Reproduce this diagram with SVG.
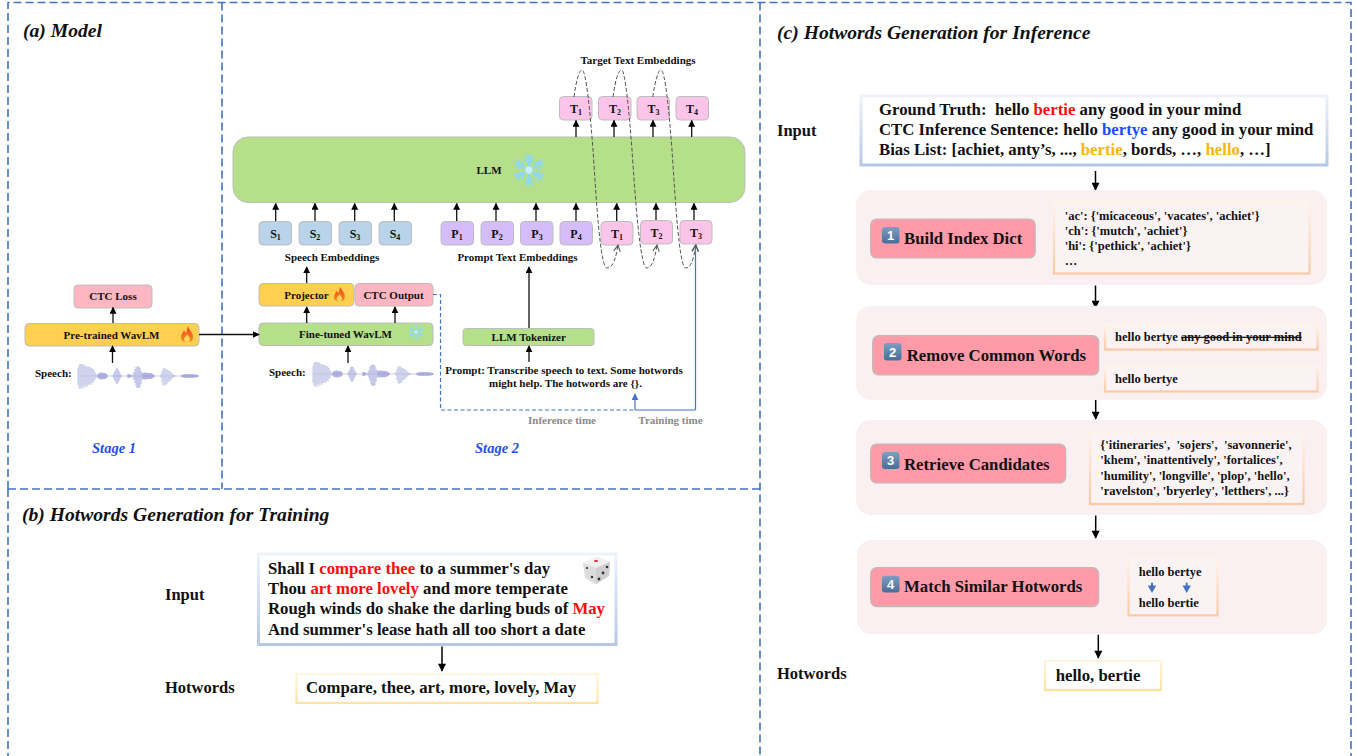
<svg xmlns="http://www.w3.org/2000/svg" xmlns:xlink="http://www.w3.org/1999/xlink" width="1357" height="756" viewBox="0 0 1357 756">
<style>
text{font-family:"Liberation Serif","Times New Roman",serif;font-weight:bold;fill:#111}
.t11{font-size:11px}.mid{text-anchor:middle}
.n12{font-size:12px}
.t12{font-size:12.500px}.t17{font-size:16.750px}
.title{font-size:19.600px;font-style:italic}
.stage{font-size:14.500px;font-style:italic;fill:#1f50e6}
.sec{font-size:16.500px}
.gray{font-size:11px;fill:#8a8a8a}
.red{fill:#fb0d0d}.blue{fill:#1a4cff}.gold{fill:#fdb40f}
.sub{font-size:8px}
.panel{fill:none;stroke:#4472c4;stroke-width:1.6;stroke-dasharray:8 4}
.nd{stroke:#bdbdbd;stroke-width:1}
.or{fill:#ffd050}.gr{fill:#b5df88}.pk{fill:#ffb6c3}.bl{fill:#b9d3ea}.pu{fill:#d5bdfb}.mg{fill:#fdc4ea}
.wrap{fill:#fbf0f1}
.btn{fill:#ff9ba9;stroke:#bbb;stroke-width:1.2}
.frO{fill:#fbf3f3;stroke:url(#gO);stroke-width:2.2}
.frB{fill:#fff;stroke:url(#gB);stroke-width:3}
.frY{fill:#fff;stroke:url(#gY);stroke-width:2.2}
.key{fill:url(#gK)}
.keyT{font-family:"Liberation Sans",Arial,sans-serif;font-size:13px;fill:#fff;text-anchor:middle;font-weight:bold}
.c{fill:none;stroke:#111;stroke-width:1.3}
.cb{fill:none;stroke:#000;stroke-width:1.5}
.d{fill:none;stroke:#555;stroke-width:1;stroke-dasharray:4 2}
.bl1{fill:none;stroke:#4472c4;stroke-width:1.2}
</style>
<defs>
<linearGradient id="gO" x1="0" y1="0" x2="0" y2="1"><stop offset="0" stop-color="#fff3ea"/><stop offset="1" stop-color="#fbc9a4"/></linearGradient>
<linearGradient id="gB" x1="0" y1="0" x2="0" y2="1"><stop offset="0" stop-color="#eef3fb"/><stop offset="1" stop-color="#b6c8e8"/></linearGradient>
<linearGradient id="gY" x1="0" y1="0" x2="0" y2="1"><stop offset="0" stop-color="#fff6dd"/><stop offset="1" stop-color="#fde3a0"/></linearGradient>
<linearGradient id="gK" x1="0" y1="0" x2="0" y2="1"><stop offset="0" stop-color="#7f9fc2"/><stop offset="1" stop-color="#466d99"/></linearGradient>
<linearGradient id="gF" x1="0" y1="0" x2="0" y2="1"><stop offset="0" stop-color="#f0431c"/><stop offset="1" stop-color="#f98a1e"/></linearGradient>
<marker id="a" viewBox="0 0 10 10" refX="9" refY="5" markerWidth="7" markerHeight="7" markerUnits="userSpaceOnUse" orient="auto"><path d="M0 0L10 5L0 10z" fill="#000"/></marker>
<marker id="aL" viewBox="0 0 10 10" refX="9" refY="5" markerWidth="9" markerHeight="8" markerUnits="userSpaceOnUse" orient="auto"><path d="M0 0L10 5L0 10z" fill="#000"/></marker>
<marker id="aB" viewBox="0 0 10 10" refX="9" refY="5" markerWidth="7" markerHeight="7" markerUnits="userSpaceOnUse" orient="auto"><path d="M0 0L10 5L0 10z" fill="#4472c4"/></marker>
<marker id="aO" viewBox="0 0 10 10" refX="9" refY="5" markerWidth="8" markerHeight="8" markerUnits="userSpaceOnUse" orient="auto"><path d="M1 1L9 5L1 9" fill="none" stroke="#555" stroke-width="1.3"/></marker>
<g id="wave" fill="none">
<path d="M0 0H120" stroke="#b0b3de" stroke-width="0.7"/>
<path stroke="#bcbfe3" stroke-width="0.9" d="M0-8V9M1-11V12M2-12V13M3-12V11M4-12V13M5-11V10M6-12V12M7-10V11M8-10V9M9-9V11M10-10V9M11-9V9M12-9V8M13-8V9M14-8V7M15-7V7M16-6V5M17-4V4M18-2V2"/>
<path stroke="#8f94d2" stroke-width="0.9" d="M20-2V2M21-3V3M22-3V3M23-3.500V3.500M24-3.500V3.500M25-3V3M26-3V3M27-3V3M28-2.500V2.500M29-1.500V1.500"/>
<path stroke="#adb0de" stroke-width="0.9" d="M35-1V1M36-3V3M37-5V5M38-7V7M39-8V8M40-7V7M41-5V5M42-3V3M43-1.500V1.500"/>
<path stroke="#8f94d2" stroke-width="0.9" d="M50-2V2M51-2V2M52-1.500V1.500M53-1V1"/>
<path stroke="#adb0de" stroke-width="0.9" d="M55-2V2M56-4V4M57-7V7M58-9V10M59-9V12M60-10V12M61-9V12M62-8V11M63-5V8M64-4V4"/>
<path stroke="#8f94d2" stroke-width="0.9" d="M65-3V3M66-3V3M67-3.500V3.500M68-3V3M69-3.500V3.500M70-3V3M71-3V3M72-3V3M73-3V3M74-2.500V2.500M75-2V2M76-1V1"/>
<path stroke="#bcbfe3" stroke-width="0.9" d="M83-2V2M84-5V6M85-7V9M86-8V10M87-8V9M88-7V9M89-6V8M90-6V6M91-5V6M92-5V5M93-4V4M94-3V3M95-2V2M96-1V1M97-1V1"/>
<path stroke="#8f94d2" stroke-width="0.9" d="M104-1V1M105-1.500V1.500M106-1.500V1.500M107-2V2M108-2V2M109-1.500V1.500M110-2V2M111-2V2M112-2V2M113-1.500V1.500M114-2V2M115-2V2M116-1.500V1.500M117-1.500V1.500M118-1.500V1.500M119-1V1M120-1V1"/>
</g>
<g id="flame">
<path d="M7-8C8-4 12-2 12 3C12 7 9 8 6 8C3 8 0 7 0 3C0 0 2-1 3-4C4-2 4-1 5-1C6-3 6-5 7-8z" fill="url(#gF)"/>
<path d="M6 0C7 2 9 3 9 5C9 7 7 8 6 8C4 8 3 7 3 5C3 3 5 3 6 0z" fill="#ffd65a"/>
</g>
<g id="snow" fill="none" stroke="#8fd8f2" stroke-width="1.400" stroke-linecap="round">
<path id="arm" d="M0 0V-10M-2.500-7L0-4.500L2.500-7M-2.500-10L0-7.500L2.500-10"/>
<use xlink:href="#arm" href="#arm" transform="rotate(60)"/>
<use xlink:href="#arm" href="#arm" transform="rotate(120)"/>
<use xlink:href="#arm" href="#arm" transform="rotate(180)"/>
<use xlink:href="#arm" href="#arm" transform="rotate(240)"/>
<use xlink:href="#arm" href="#arm" transform="rotate(300)"/>
<circle r="2.500" fill="#c7eefa" stroke="none"/>
</g>
</defs>

<g id="panels">
<path class="panel" d="M8 489V2.500H1351V756"/>
<path class="panel" d="M8 489V756"/>
<path class="panel" d="M8 489H760"/>
<path class="panel" d="M222 2.500V489"/>
<path class="panel" d="M760 2.500V756"/>
</g>

<g id="titles">
<text class="title" x="23" y="37">(a) Model</text>
<text class="title" x="22" y="521">(b) Hotwords Generation for Training</text>
<text class="title" x="777" y="39">(c) Hotwords Generation for Inference</text>
<text class="stage mid" x="114" y="453">Stage 1</text>
<text class="stage mid" x="497" y="453">Stage 2</text>
<text class="t11 mid" x="638" y="64">Target Text Embeddings</text>
<text class="t11 mid" x="332" y="261">Speech Embeddings</text>
<text class="t11 mid" x="517.500" y="261">Prompt Text Embeddings</text>
<text class="t11" x="35" y="377">Speech:</text>
<text class="t11" x="269" y="376">Speech:</text>
<text class="t11 mid" x="564" y="374">Prompt: Transcribe speech to text. Some hotwords</text>
<text class="t11 mid" x="565.500" y="387">might help. The hotwords are {}.</text>
<text class="gray mid" x="562" y="424">Inference time</text>
<text class="gray mid" x="670.500" y="424">Training time</text>
<text class="sec" x="165" y="600">Input</text>
<text class="sec" x="165" y="693">Hotwords</text>
<text class="sec" x="777" y="136">Input</text>
<text class="sec" x="777" y="679">Hotwords</text>
</g>

<use xlink:href="#wave" href="#wave" x="78" y="376"/>
<use xlink:href="#wave" href="#wave" x="313" y="374"/>

<g id="node-ctc-loss"><rect class="nd pk" x="74" y="285" width="78" height="23" rx="4"/><text class="t11 mid" x="113" y="300">CTC Loss</text></g>
<g id="node-pretrained"><rect class="nd or" x="25" y="323.500" width="174" height="22.500" rx="4"/><text class="t11 mid" x="111.500" y="339">Pre-trained WavLM</text><use xlink:href="#flame" href="#flame" x="181" y="334"/></g>
<g id="node-finetuned"><rect class="nd gr" x="259" y="323" width="174" height="22.500" rx="4"/><text class="t11 mid" x="345.500" y="338">Fine-tuned WavLM</text><use xlink:href="#snow" href="#snow" transform="translate(416 332) scale(.7)"/></g>
<g id="node-projector"><rect class="nd or" x="259" y="283.500" width="95" height="22.500" rx="4"/><text class="t11 mid" x="306.500" y="299">Projector</text><use xlink:href="#flame" href="#flame" transform="translate(334 294) scale(.9)"/></g>
<g id="node-ctc-output"><rect class="nd pk" x="355" y="283.500" width="78" height="22.500" rx="4"/><text class="t11 mid" x="393.500" y="299">CTC Output</text></g>
<g id="node-llm"><rect class="nd gr" x="233" y="137" width="512" height="65.500" rx="15"/><text class="t11 mid" x="489" y="174">LLM</text><use xlink:href="#snow" href="#snow" transform="translate(529 170) scale(1.450)"/></g>
<g id="node-tokenizer"><rect class="nd gr" x="463" y="328.500" width="131" height="17" rx="3"/><text class="t11 mid" x="528.700" y="341">LLM Tokenizer</text></g>

<g id="node-s1"><rect class="nd bl" x="259" y="221.500" width="32.500" height="23.500" rx="4"/><text class="n12 mid" x="275.500" y="238">S<tspan class="sub" dy="2">1</tspan></text></g>
<g id="node-s2"><rect class="nd bl" x="299" y="221.500" width="32.500" height="23.500" rx="4"/><text class="n12 mid" x="315" y="238">S<tspan class="sub" dy="2">2</tspan></text></g>
<g id="node-s3"><rect class="nd bl" x="339" y="221.500" width="32.500" height="23.500" rx="4"/><text class="n12 mid" x="355" y="238">S<tspan class="sub" dy="2">3</tspan></text></g>
<g id="node-s4"><rect class="nd bl" x="379" y="221.500" width="32.500" height="23.500" rx="4"/><text class="n12 mid" x="395" y="238">S<tspan class="sub" dy="2">4</tspan></text></g>
<g id="node-p1"><rect class="nd pu" x="441" y="221.500" width="32.500" height="23.500" rx="4"/><text class="n12 mid" x="457" y="238">P<tspan class="sub" dy="2">1</tspan></text></g>
<g id="node-p2"><rect class="nd pu" x="481" y="221.500" width="32.500" height="23.500" rx="4"/><text class="n12 mid" x="497" y="238">P<tspan class="sub" dy="2">2</tspan></text></g>
<g id="node-p3"><rect class="nd pu" x="520.500" y="221.500" width="32.500" height="23.500" rx="4"/><text class="n12 mid" x="537" y="238">P<tspan class="sub" dy="2">3</tspan></text></g>
<g id="node-p4"><rect class="nd pu" x="560" y="221.500" width="32.500" height="23.500" rx="4"/><text class="n12 mid" x="576" y="238">P<tspan class="sub" dy="2">4</tspan></text></g>
<g id="node-tb1"><rect class="nd mg" x="601" y="221.500" width="32" height="23.500" rx="4"/><text class="n12 mid" x="617" y="238">T<tspan class="sub" dy="2">1</tspan></text></g>
<g id="node-tb2"><rect class="nd mg" x="640.500" y="220.500" width="32" height="23.500" rx="4"/><text class="n12 mid" x="656.500" y="237">T<tspan class="sub" dy="2">2</tspan></text></g>
<g id="node-tb3"><rect class="nd mg" x="680" y="220.500" width="32" height="23.500" rx="4"/><text class="n12 mid" x="696" y="237">T<tspan class="sub" dy="2">3</tspan></text></g>
<g id="node-tt1"><rect class="nd mg" x="559.500" y="96.500" width="32.500" height="23.500" rx="4"/><text class="n12 mid" x="576" y="113">T<tspan class="sub" dy="2">1</tspan></text></g>
<g id="node-tt2"><rect class="nd mg" x="598.500" y="96.500" width="32.500" height="23.500" rx="4"/><text class="n12 mid" x="615" y="113">T<tspan class="sub" dy="2">2</tspan></text></g>
<g id="node-tt3"><rect class="nd mg" x="637" y="96.500" width="32.500" height="23.500" rx="4"/><text class="n12 mid" x="653.500" y="113">T<tspan class="sub" dy="2">3</tspan></text></g>
<g id="node-tt4"><rect class="nd mg" x="676" y="96.500" width="32.500" height="23.500" rx="4"/><text class="n12 mid" x="692" y="113">T<tspan class="sub" dy="2">4</tspan></text></g>

<g id="connectors">
<path class="c" marker-end="url(#a)" d="M113 323V307.500"/>
<path class="c" marker-end="url(#a)" d="M112.500 363V346"/>
<path class="c" marker-end="url(#a)" d="M199 334.500H259"/>
<path class="c" marker-end="url(#a)" d="M348 363V346"/>
<path class="c" marker-end="url(#a)" d="M306.700 323V307"/>
<path class="c" marker-end="url(#a)" d="M395 323V307"/>
<path class="c" marker-end="url(#a)" d="M306.700 283V267"/>
<path class="c" marker-end="url(#a)" d="M529 328V267"/>
<path class="c" marker-end="url(#a)" d="M529 362V346"/>
<path class="c" marker-end="url(#a)" d="M275.700 221V203.500"/>
<path class="c" marker-end="url(#a)" d="M315 221V203.500"/>
<path class="c" marker-end="url(#a)" d="M354.700 221V203.500"/>
<path class="c" marker-end="url(#a)" d="M394.300 221V203.500"/>
<path class="c" marker-end="url(#a)" d="M456.700 221V203.500"/>
<path class="c" marker-end="url(#a)" d="M496 221V203.500"/>
<path class="c" marker-end="url(#a)" d="M536 221V203.500"/>
<path class="c" marker-end="url(#a)" d="M576 221V203.500"/>
<path class="c" marker-end="url(#a)" d="M616.700 221V203.500"/>
<path class="c" marker-end="url(#a)" d="M656 220V203.500"/>
<path class="c" marker-end="url(#a)" d="M694 220V203.500"/>
<path class="c" marker-end="url(#a)" d="M576 137V120.500"/>
<path class="c" marker-end="url(#a)" d="M614 137V120.500"/>
<path class="c" marker-end="url(#a)" d="M653 137V120.500"/>
<path class="c" marker-end="url(#a)" d="M691.700 137V120.500"/>
<path class="d" marker-end="url(#aO)" d="M574 97C576 82 579 70 582 70C586 70 590 110 593 150C596 195 600 268 607 268C613 268 616 258 618 245"/>
<path class="d" marker-end="url(#aO)" d="M613 97C615 82 618 70 621.700 70C625 70 629 110 632 150C635 195 640 268 646.700 268C652 268 655 258 657 245"/>
<path class="d" marker-end="url(#aO)" d="M652.700 97C655 82 658 70 661 70C665 70 669 110 672 150C675 195 679 268 685.700 268C691 268 694 258 696 245"/>
<path class="bl1" marker-end="url(#aO)" d="M695.500 410V245"/>
<path class="bl1" d="M635 410H695.500"/>
<path class="bl1" stroke-dasharray="4 2.500" d="M433 294.500H440.500V410H635"/>
<path class="bl1" marker-end="url(#aB)" d="M635 410V394"/>
<path class="cb" marker-end="url(#aL)" d="M442 646.500V671"/>
<path class="cb" marker-end="url(#aL)" d="M1095.500 171V190"/>
<path class="cb" marker-end="url(#aL)" d="M1095.500 285.500V308"/>
<path class="cb" marker-end="url(#aL)" d="M1095.700 397V419"/>
<path class="cb" marker-end="url(#aL)" d="M1095.700 515.500V538"/>
<path class="cb" marker-end="url(#aL)" d="M1098.300 634.700V658"/>
</g>

<g id="node-input-b">
<rect class="frB" x="258.500" y="554" width="357.500" height="90.500"/>
<text class="t17" x="268" y="574">Shall I <tspan class="red">compare thee</tspan> to a summer's day</text>
<text class="t17" x="268" y="594">Thou <tspan class="red">art more lovely</tspan> and more temperate</text>
<text class="t17" x="268" y="614">Rough winds do shake the darling buds of <tspan class="red">May</tspan></text>
<text class="t17" x="268" y="635">And summer's lease hath all too short a date</text>
<g id="dice">
<path d="M583 563L597 557L610 562L609 576L596 584L585 578z" fill="#dcdcdc"/>
<path d="M583 563L597 557L610 562L596 568z" fill="#f1f1f1"/>
<path d="M596 568L610 562L609 576L596 584z" fill="#cfcfcf"/>
<ellipse cx="596" cy="561" rx="2" ry="1" fill="#e8222a"/>
<circle cx="587" cy="568" r="1.100" fill="#333"/><circle cx="592" cy="577" r="1.200" fill="#333"/>
<circle cx="599" cy="579" r="1.400" fill="#333"/><circle cx="603" cy="573" r="1.400" fill="#333"/><circle cx="607" cy="567" r="1.300" fill="#333"/>
</g>
</g>
<g id="node-hotwords-b"><rect class="frY" x="296.500" y="674" width="301" height="29"/><text class="t17" x="306" y="693">Compare, thee, art, more, lovely, May</text></g>

<g id="node-input-c">
<rect class="frB" x="861" y="96" width="466" height="69"/>
<text class="t17" x="879" y="115">Ground Truth:&#160; hello <tspan class="red">bertie</tspan> any good in your mind</text>
<text class="t17" x="879" y="135">CTC Inference Sentence: hello <tspan class="blue">bertye</tspan> any good in your mind</text>
<text class="t17" x="879" y="155">Bias List: [achiet, anty’s, ..., <tspan class="gold">bertie</tspan>, bords, …, <tspan class="gold">hello</tspan>, …]</text>
</g>

<g id="node-step1">
<rect class="wrap" x="856" y="190" width="471" height="95" rx="15"/>
<rect class="btn" x="870.700" y="219" width="164.500" height="39" rx="6"/>
<rect class="key" x="882" y="227" width="17.500" height="16.500" rx="3"/><text class="keyT" x="890.700" y="240">1</text>
<text class="t17" x="904" y="244">Build Index Dict</text>
<rect class="frO" x="1054" y="202.500" width="255.500" height="71"/>
<text class="t12" x="1064.700" y="219.500">'ac': {'micaceous', 'vacates', 'achiet'}</text>
<text class="t12" x="1064.700" y="234.500">'ch': {'mutch', 'achiet'}</text>
<text class="t12" x="1064.700" y="249.500">'hi': {'pethick', 'achiet'}</text>
<text class="t12" x="1064.700" y="265">…</text>
</g>

<g id="node-step2">
<rect class="wrap" x="856" y="305.700" width="471" height="94.300" rx="15"/>
<rect class="btn" x="872.700" y="335.700" width="226" height="39.300" rx="6"/>
<rect class="key" x="884" y="343" width="17.500" height="17.500" rx="3"/><text class="keyT" x="892.700" y="356.500">2</text>
<text class="t17" x="906.700" y="361">Remove Common Words</text>
<rect class="frO" x="1105" y="324.500" width="212.500" height="25"/>
<text class="t12" x="1115" y="341">hello bertye <tspan text-decoration="line-through">any good in your mind</tspan></text>
<rect class="frO" x="1105" y="366.500" width="212.500" height="25"/>
<text class="t12" x="1115" y="383">hello bertye</text>
</g>

<g id="node-step3">
<rect class="wrap" x="856" y="420" width="471" height="95" rx="15"/>
<rect class="btn" x="870.700" y="444" width="195" height="39" rx="6"/>
<rect class="key" x="882" y="452" width="17.500" height="17" rx="3"/><text class="keyT" x="890.700" y="465">3</text>
<text class="t17" x="904" y="469.500">Retrieve Candidates</text>
<rect class="frO" x="1090" y="432.500" width="213.500" height="71.500"/>
<text class="t12" x="1100.300" y="448.500">{'itineraries',&#160; 'sojers',&#160; 'savonnerie',</text>
<text class="t12" x="1100.300" y="463.500">'khem', 'inattentively', 'fortalices',</text>
<text class="t12" x="1100.300" y="479.500">'humility', 'longville', 'plop', 'hello',</text>
<text class="t12" x="1100.300" y="495">'ravelston', 'bryerley', 'letthers', ...}</text>
</g>

<g id="node-step4">
<rect class="wrap" x="857" y="540" width="470" height="94.300" rx="15"/>
<rect class="btn" x="870.700" y="567.700" width="228" height="39" rx="6"/>
<rect class="key" x="882" y="575.700" width="17.500" height="16.800" rx="3"/><text class="keyT" x="890.700" y="588.500">4</text>
<text class="t17" x="904" y="592">Match Similar Hotwords</text>
<rect class="frO" x="1128.500" y="558.800" width="89" height="56.500"/>
<text class="t12" x="1138.700" y="576">hello bertye</text>
<text class="t12" x="1138.700" y="607">hello bertie</text>
<path d="M1152 582.700V587" stroke="#4472c4" stroke-width="2"/><path d="M1147.800 585.500H1156.200L1152 593z" fill="#4472c4"/>
<path d="M1186.700 582.700V587" stroke="#4472c4" stroke-width="2"/><path d="M1182.500 585.500H1190.900L1186.700 593z" fill="#4472c4"/>
</g>

<g id="node-hotwords-c"><rect class="frY" x="1045" y="661" width="116" height="29"/><text class="t17" x="1055.700" y="681">hello, bertie</text></g>
</svg>
